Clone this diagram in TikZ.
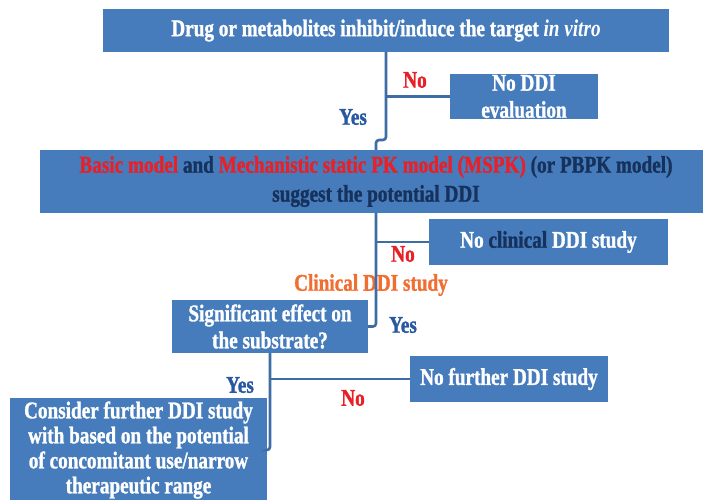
\documentclass[tikz,border=0pt]{standalone}
\usepackage{fontspec}
\setmainfont{Liberation Serif}[FakeStretch=0.8, BoldFeatures={FakeBold=1.2}]

\definecolor{boxblue}{RGB}{70,124,187}
\definecolor{lineblue}{RGB}{62,108,165}
\definecolor{noRed}{RGB}{232,32,40}
\definecolor{yesBlue}{RGB}{40,88,160}
\definecolor{navy}{RGB}{22,50,92}
\definecolor{clinOrange}{RGB}{240,110,50}

\begin{document}
\begin{tikzpicture}[x=1pt,y=-1pt,
    box/.style={fill=boxblue, text=white, align=center, inner sep=0pt,
        font=\bfseries\fontsize{24}{27}\selectfont},
    conn/.style={draw=lineblue, line width=2.6pt, rounded corners=3pt},
    nolbl/.style={text=noRed, font=\bfseries\fontsize{24}{27}\selectfont},
    yeslbl/.style={text=yesBlue, font=\bfseries\fontsize{24}{27}\selectfont}]
    \useasboundingbox (0,0) rectangle (703,499);

    \node[box, minimum width=566pt, minimum height=43pt] (top) at (386,30.5)
        {Drug or metabolites inhibit/induce the target \textit{in vitro}};
    \node[box, minimum width=148pt, minimum height=45pt] (noddi) at (524,96.5)
        {No DDI\\evaluation};

    \node[box, minimum width=672pt, minimum height=63pt, text=navy,
        font=\bfseries\fontsize{24}{29}\selectfont] (mid) at (376,181.5)
        {\textcolor{noRed}{Basic model} and \textcolor{noRed}{Mechanistic static PK model (MSPK)} (or PBPK model)\\suggest the potential DDI};
    \node[box, minimum width=239pt, minimum height=46pt] (noclin) at (548.5,242)
        {No \textcolor{navy}{clinical} DDI study};

    \node[box, minimum width=196pt, minimum height=53pt] (sig) at (270,326.5)
        {Significant effect on\\the substrate?};
    \node[box, minimum width=198pt, minimum height=46pt] (nofur) at (509,379)
        {No further DDI study};
    \node[box, minimum width=257pt, minimum height=104pt,
        font=\bfseries\fontsize{24}{25}\selectfont] (cons) at (138.5,450)
        {Consider further DDI study\\with based on the potential\\of concomitant use/narrow\\therapeutic range};

    \node[nolbl] (no1) at (415,80) {No};
    \node[yeslbl] (yes1) at (353,117) {Yes};
    \node[nolbl] (no2) at (403,254) {No};
    \node[text=clinOrange, font=\bfseries\fontsize{24}{27}\selectfont] (clin) at (371,285) {Clinical DDI study};
    \node[yeslbl] (yes2) at (403,325) {Yes};
    \node[yeslbl] (yes3) at (240,385) {Yes};
    \node[nolbl] (no3) at (353,398) {No};

    \coordinate (jog) at (386,140);
    \draw[conn] (top.south) -- (jog) -| (mid.north);
    \draw[conn] (top.south |- noddi.west) -- (noddi.west);
    \draw[conn] (mid.south) |- (sig.east);
    \draw[conn] (mid.south |- noclin.west) -- (noclin.west);
    \draw[conn] (sig.south) |- (cons.east);
    \draw[conn] (sig.south |- nofur.west) -- (nofur.west);
\end{tikzpicture}
\end{document}
